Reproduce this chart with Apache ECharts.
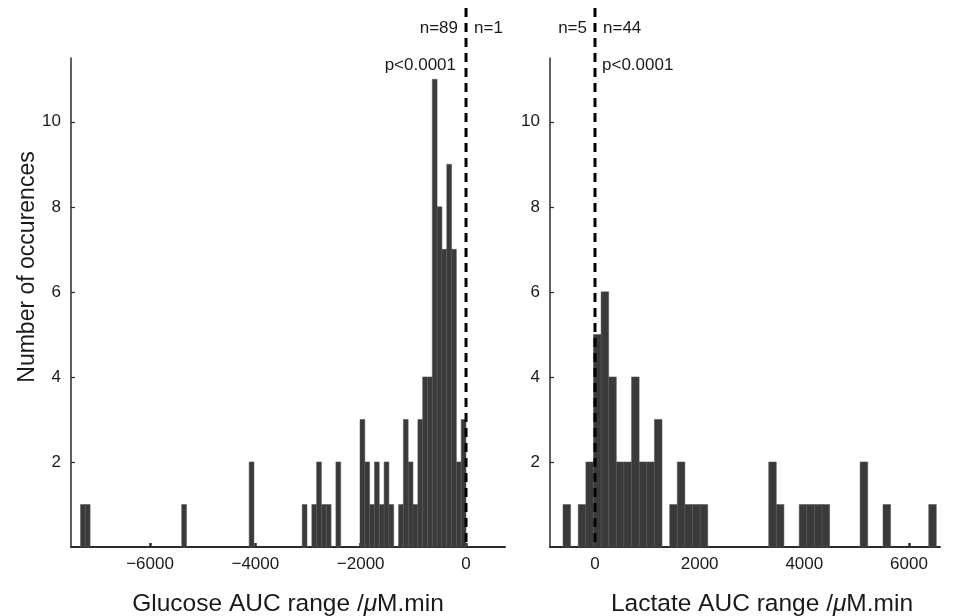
<!DOCTYPE html>
<html>
<head>
<meta charset="utf-8">
<script src="https://cdn.jsdelivr.net/npm/echarts@6/dist/echarts.min.js"></script>
<style>
  html, body { margin: 0; padding: 0; background: #ffffff; }
  #chart { width: 957px; height: 616px; }
</style>
</head>
<body>
<div id="chart"></div>
<script>
// Histogram bins (bin centres in µM.min) and occurrence counts
const glucoseBinWidth = 91.5;
const glucoseCenters = [-7274, -7183, -5353, -4072, -3065, -2882, -2791, -2699, -2608, -2425,
  -1967, -1876, -1784, -1693, -1601, -1510, -1418, -1235, -1144, -1052,
  -961, -869, -778, -686, -595, -503, -412, -320, -229, -137, -46];
const glucoseCounts = [1, 1, 1, 2, 1, 1, 2, 1, 1, 2,
  3, 2, 1, 2, 1, 2, 1, 1, 3, 2,
  1, 3, 4, 4, 11, 8, 7, 9, 7, 2, 3];

const lactateBinWidth = 145.6;
const lactateCenters = [-539, -248, -102, 43, 189, 335, 480, 626, 771, 917,
  1063, 1208, 1500, 1645, 1791, 1937, 2082, 3392, 3538, 3975,
  4120, 4266, 4411, 5139, 5576, 6450];
const lactateCounts = [1, 1, 2, 5, 6, 4, 2, 2, 4, 2,
  2, 3, 1, 2, 1, 1, 1, 2, 1, 1,
  1, 1, 1, 2, 1, 1];

// Tick labels
const glucoseTicks = [-6000, -4000, -2000, 0];
const lactateTicks = [0, 2000, 4000, 6000];
const countTicks = [2, 4, 6, 8, 10];

// Counts on either side of the zero line, and significance
const glucoseNotes = { below: 'n=89', above: 'n=1', p: 'p<0.0001', pSide: 'left' };
const lactateNotes = { below: 'n=5', above: 'n=44', p: 'p<0.0001', pSide: 'right' };

const FONT = '"Liberation Sans", Arial, Helvetica, sans-serif';
const INK = '#1a1a1a';
const AXIS = '#2b2b2b';
const Y_MAX = 11.5;

const chart = echarts.init(document.getElementById('chart'), null, { renderer: 'canvas' });

function histItem(binWidth) {
  return function (params, api) {
    const c = api.value(0);
    const n = api.value(1);
    const p0 = api.coord([c - binWidth / 2, 0]);
    const p1 = api.coord([c + binWidth / 2, n]);
    return {
      type: 'rect',
      shape: { x: p0[0], y: p1[1], width: p1[0] - p0[0], height: p0[1] - p1[1] },
      style: { fill: '#3a3a3a', stroke: '#555555', lineWidth: 0.5 }
    };
  };
}

function zeroLineItem(notes) {
  return function (params, api) {
    const base = api.coord([0, 0]);
    const top = api.coord([0, Y_MAX])[1];
    const x = base[0];
    const textStyle = (text, align) => ({
      text: text, fill: INK, fontSize: 17, fontFamily: FONT,
      align: align, textAlign: align, verticalAlign: 'middle', textVerticalAlign: 'middle'
    });
    const rowN = top - 30;
    const rowP = top + 7;
    return {
      type: 'group',
      children: [
        {
          type: 'line',
          shape: { x1: x, y1: top - 50, x2: x, y2: base[1] },
          style: { stroke: '#000000', lineWidth: 3, lineDash: [9, 6] }
        },
        { type: 'text', x: x - 8, y: rowN, style: textStyle(notes.below, 'right') },
        { type: 'text', x: x + 8, y: rowN, style: textStyle(notes.above, 'left') },
        notes.pSide === 'left'
          ? { type: 'text', x: x - 10, y: rowP, style: textStyle(notes.p, 'right') }
          : { type: 'text', x: x + 7, y: rowP, style: textStyle(notes.p, 'left') }
      ]
    };
  };
}

function xAxisFor(gridIndex, min, max, ticks, label, shift) {
  return {
    type: 'value', gridIndex: gridIndex, min: min, max: max,
    axisLine: { show: true, onZero: false, lineStyle: { color: AXIS, width: 2 } },
    axisTick: { show: true, inside: true, length: 4, customValues: ticks,
      lineStyle: { color: AXIS, width: 2.5 } },
    axisLabel: { customValues: ticks, color: INK, fontSize: 17, fontFamily: FONT, margin: 9,
      formatter: v => String(v).replace('-', '\u2212') },
    splitLine: { show: false },
    name: label + ' /{i|\u03bc}M.min',
    nameLocation: 'middle',
    nameGap: 45,
    nameTextStyle: {
      color: INK, fontSize: 24.5, fontFamily: FONT, padding: [0, 0, 0, shift],
      rich: { i: { fontStyle: 'italic', fontSize: 24.5, fontFamily: FONT, color: INK } }
    }
  };
}

function yAxisFor(gridIndex) {
  return {
    type: 'value', gridIndex: gridIndex, min: 0, max: Y_MAX,
    axisLine: { show: true, onZero: false, lineStyle: { color: AXIS, width: 1.5 } },
    axisTick: { show: true, inside: true, length: 4, customValues: countTicks,
      lineStyle: { color: AXIS, width: 1.2 } },
    axisLabel: { customValues: countTicks, color: INK, fontSize: 17, fontFamily: FONT, margin: 10 },
    splitLine: { show: false }
  };
}

const option = {
  backgroundColor: '#ffffff',
  animation: false,
  grid: [
    { left: 71, top: 58, width: 434, height: 489, containLabel: false, outerBoundsMode: 'none' },
    { left: 550, top: 58, width: 390, height: 489, containLabel: false, outerBoundsMode: 'none' }
  ],
  xAxis: [
    xAxisFor(0, -7500, 740, glucoseTicks, 'Glucose AUC range', 0),
    xAxisFor(1, -860, 6593, lactateTicks, 'Lactate AUC range', 34)
  ],
  yAxis: [yAxisFor(0), yAxisFor(1)],
  graphic: [{
    type: 'text', x: 28, y: 267, rotation: Math.PI / 2,
    style: { text: 'Number of occurences', fill: INK, fontSize: 23, fontFamily: FONT,
      align: 'center', verticalAlign: 'middle' }
  }],
  series: [
    {
      type: 'custom', xAxisIndex: 0, yAxisIndex: 0,
      renderItem: histItem(glucoseBinWidth),
      encode: { x: 0, y: 1 },
      data: glucoseCenters.map((c, i) => [c, glucoseCounts[i]])
    },
    {
      type: 'custom', xAxisIndex: 1, yAxisIndex: 1,
      renderItem: histItem(lactateBinWidth),
      encode: { x: 0, y: 1 },
      data: lactateCenters.map((c, i) => [c, lactateCounts[i]])
    },
    {
      type: 'custom', xAxisIndex: 0, yAxisIndex: 0, clip: false, z: 5,
      renderItem: zeroLineItem(glucoseNotes),
      data: [[0, 0]]
    },
    {
      type: 'custom', xAxisIndex: 1, yAxisIndex: 1, clip: false, z: 5,
      renderItem: zeroLineItem(lactateNotes),
      data: [[0, 0]]
    }
  ]
};

chart.setOption(option);
</script>
</body>
</html>
